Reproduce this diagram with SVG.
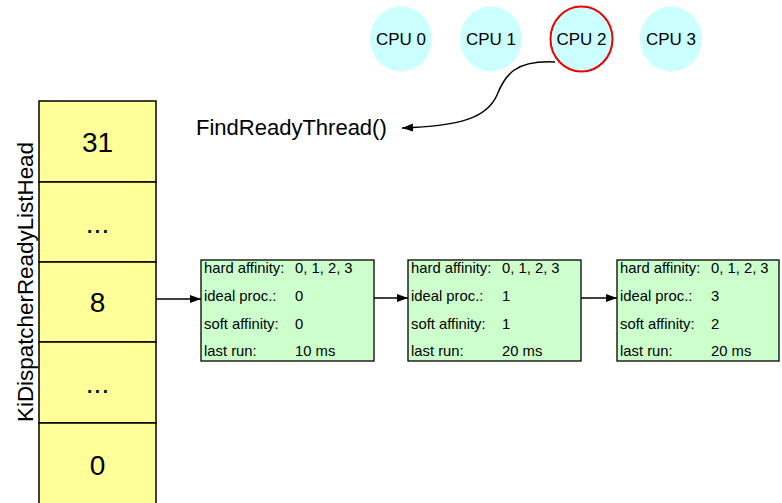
<svg xmlns="http://www.w3.org/2000/svg" width="782" height="503" viewBox="0 0 782 503">
<style>
text{font-family:"Liberation Sans",Arial,sans-serif;fill:#000}
.cell{fill:#ffff99;stroke:#000;stroke-width:1.5}
.big{font-size:28px;text-anchor:middle}
.cpu{fill:#ccffff}
.cpul{font-size:17px;text-anchor:middle}
.box{fill:#ccffcc;stroke:#000;stroke-width:1.3}
.bt{font-size:14.8px}
.con{fill:none;stroke:#000;stroke-width:1.5}
</style>
<defs>
<marker id="ah" markerWidth="12" markerHeight="10" refX="11" refY="5" orient="auto" markerUnits="userSpaceOnUse">
<path d="M0,1 L11,5 L0,9 Z" fill="#000"/>
</marker>
</defs>
<g id="cpu0"><ellipse class="cpu" cx="401" cy="39" rx="31" ry="32.5"/><text class="cpul" x="401" y="45">CPU 0</text></g>
<g id="cpu1"><ellipse class="cpu" cx="491" cy="39" rx="31" ry="32.5"/><text class="cpul" x="491" y="45">CPU 1</text></g>
<g id="cpu2"><ellipse class="cpu" cx="581.5" cy="39" rx="31" ry="32.5" stroke="#ee0000" stroke-width="2"/><text class="cpul" x="581.5" y="45">CPU 2</text></g>
<g id="cpu3"><ellipse class="cpu" cx="671" cy="39" rx="31" ry="32.5"/><text class="cpul" x="671" y="45">CPU 3</text></g>
<g id="findready"><text x="196" y="135" font-size="22">FindReadyThread()</text></g>
<g id="readylist">
<rect class="cell" x="39" y="101" width="117" height="81"/>
<rect class="cell" x="39" y="182" width="117" height="80"/>
<rect class="cell" x="39" y="262" width="117" height="80"/>
<rect class="cell" x="39" y="342" width="117" height="81"/>
<rect class="cell" x="39" y="423" width="117" height="82"/>
<text class="big" x="97.5" y="152">31</text>
<text class="big" x="97.5" y="233">...</text>
<text class="big" x="97.5" y="312">8</text>
<text class="big" x="97.5" y="393">...</text>
<text class="big" x="97.5" y="475">0</text>
<text transform="translate(33,282) rotate(-90)" font-size="22.4" text-anchor="middle">KiDispatcherReadyListHead</text>
</g>
<g id="thread1">
<rect class="box" x="201" y="260" width="173" height="101"/>
<text class="bt" x="204" y="273">hard affinity:</text><text class="bt" x="295" y="273">0, 1, 2, 3</text>
<text class="bt" x="204" y="301">ideal proc.:</text><text class="bt" x="295" y="301">0</text>
<text class="bt" x="204" y="329">soft affinity:</text><text class="bt" x="295" y="329">0</text>
<text class="bt" x="204" y="356">last run:</text><text class="bt" x="295" y="356">10 ms</text>
</g>
<g id="thread2">
<rect class="box" x="408" y="260" width="173" height="101"/>
<text class="bt" x="411" y="273">hard affinity:</text><text class="bt" x="502" y="273">0, 1, 2, 3</text>
<text class="bt" x="411" y="301">ideal proc.:</text><text class="bt" x="502" y="301">1</text>
<text class="bt" x="411" y="329">soft affinity:</text><text class="bt" x="502" y="329">1</text>
<text class="bt" x="411" y="356">last run:</text><text class="bt" x="502" y="356">20 ms</text>
</g>
<g id="thread3">
<rect class="box" x="617" y="260" width="162" height="101"/>
<text class="bt" x="620" y="273">hard affinity:</text><text class="bt" x="711" y="273">0, 1, 2, 3</text>
<text class="bt" x="620" y="301">ideal proc.:</text><text class="bt" x="711" y="301">3</text>
<text class="bt" x="620" y="329">soft affinity:</text><text class="bt" x="711" y="329">2</text>
<text class="bt" x="620" y="356">last run:</text><text class="bt" x="711" y="356">20 ms</text>
</g>
<g id="connectors">
<path class="con" d="M555,62 C515,60 505,75 497,95 C487,118 460,126 402,128" marker-end="url(#ah)"/>
<line class="con" x1="156" y1="299" x2="201" y2="299" marker-end="url(#ah)"/>
<line class="con" x1="374" y1="298" x2="408" y2="298" marker-end="url(#ah)"/>
<line class="con" x1="581" y1="298" x2="617" y2="298" marker-end="url(#ah)"/>
</g>
</svg>
